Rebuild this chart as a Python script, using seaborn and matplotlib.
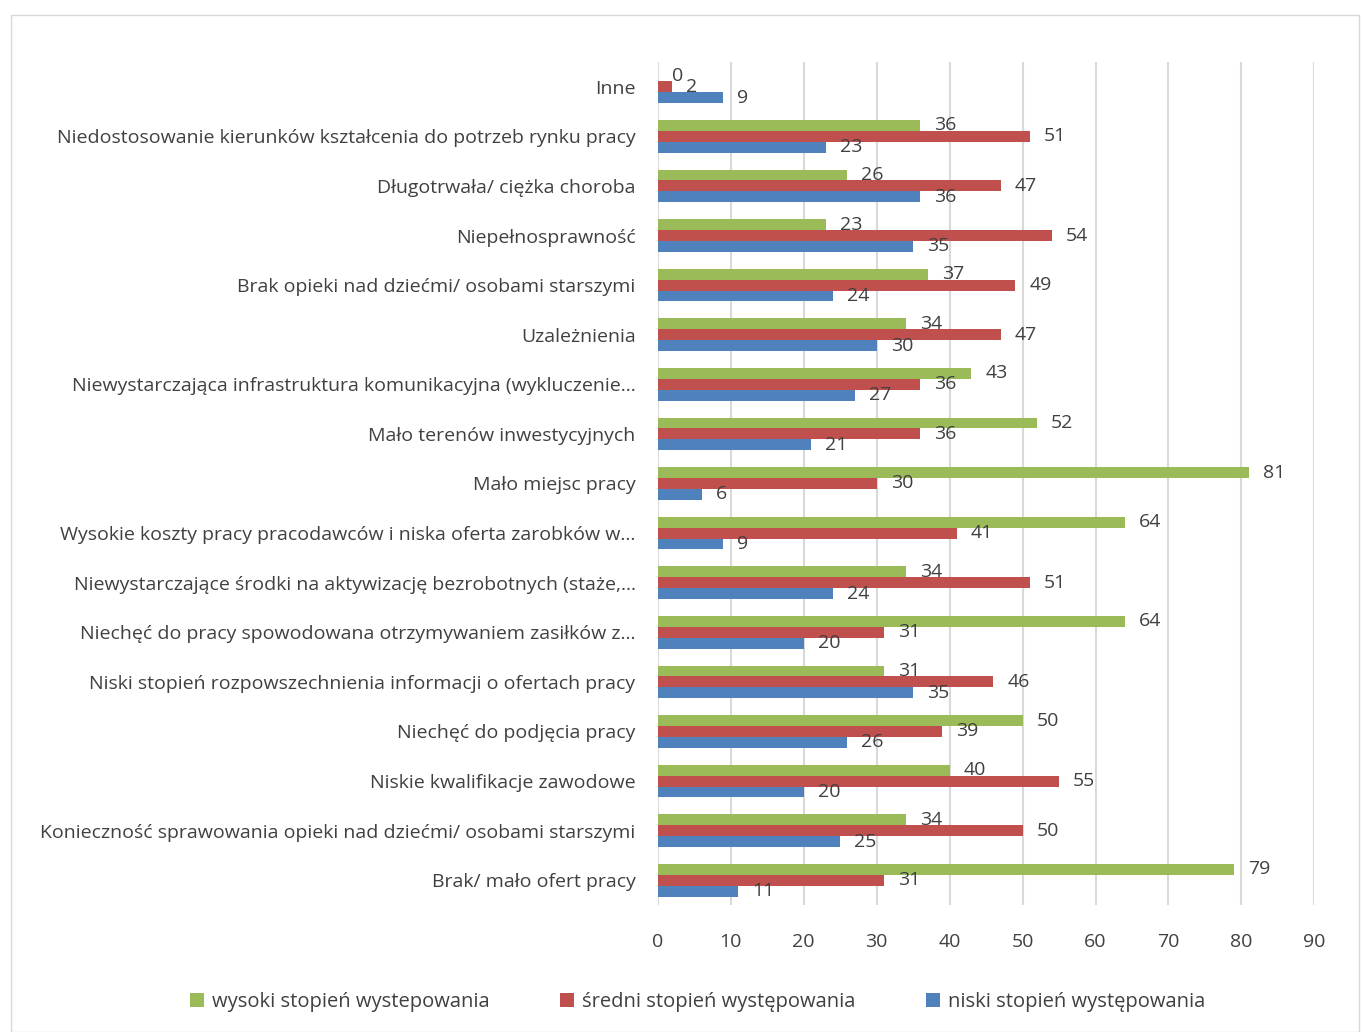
import matplotlib
matplotlib.use("Agg")
import matplotlib.pyplot as plt
import seaborn as sns
import pandas as pd

categories = [
    "Inne",
    "Niedostosowanie kierunków kształcenia do potrzeb rynku pracy",
    "Długotrwała/ ciężka choroba",
    "Niepełnosprawność",
    "Brak opieki nad dziećmi/ osobami starszymi",
    "Uzależnienia",
    "Niewystarczająca infrastruktura komunikacyjna (wykluczenie…",
    "Mało terenów inwestycyjnych",
    "Mało miejsc pracy",
    "Wysokie koszty pracy pracodawców i niska oferta zarobków w…",
    "Niewystarczające środki na aktywizację bezrobotnych (staże,…",
    "Niechęć do pracy spowodowana otrzymywaniem zasiłków z…",
    "Niski stopień rozpowszechnienia informacji o ofertach pracy",
    "Niechęć do podjęcia pracy",
    "Niskie kwalifikacje zawodowe",
    "Konieczność sprawowania opieki nad dziećmi/ osobami starszymi",
    "Brak/ mało ofert pracy",
]
wysoki = [0, 36, 26, 23, 37, 34, 43, 52, 81, 64, 34, 64, 31, 50, 40, 34, 79]
sredni = [2, 51, 47, 54, 49, 47, 36, 36, 30, 41, 51, 31, 46, 39, 55, 50, 31]
niski = [9, 23, 36, 35, 24, 30, 27, 21, 6, 9, 24, 20, 35, 26, 20, 25, 11]
series = ["wysoki stopień wystepowania", "średni stopień występowania", "niski stopień występowania"]
colors = ["#9BBB59", "#C0504D", "#4F81BD"]

rows = []
for i, c in enumerate(categories):
    for s, vals in zip(series, [wysoki, sredni, niski]):
        rows.append({"cat": c, "series": s, "value": vals[i]})
df = pd.DataFrame(rows)

sns.set_style("white")
plt.rcParams["font.family"] = ["Open Sans", "DejaVu Sans"]

fig = plt.figure(figsize=(13.62, 10.32), dpi=100)
ax = fig.add_axes([0.483, 0.123, 0.482, 0.817])
sns.barplot(data=df, y="cat", x="value", hue="series", order=categories,
            hue_order=series, palette=colors, orient="h", width=0.66,
            ax=ax, saturation=1, edgecolor="none")
ax.set_xlim(0, 90)
ax.set_xticks(range(0, 91, 10))
ax.grid(axis="x", color="#D9D9D9", linewidth=1.5)
ax.set_axisbelow(True)
for sp in ax.spines.values():
    sp.set_visible(False)
ax.set_xlabel("")
ax.set_ylabel("")
ax.tick_params(axis="both", length=0, labelsize=14, colors="#404040")
ax.tick_params(axis="y", pad=16)
ax.tick_params(axis="x", pad=20)
for cont in ax.containers:
    ax.bar_label(cont, padding=10, fontsize=14, color="#404040")

h, l = ax.get_legend_handles_labels()
ax.legend_.remove()
fig.legend(h, l, loc="center", bbox_to_anchor=(0.512, 0.029), ncol=3, frameon=False,
           fontsize=14.5, handlelength=0.7, handleheight=0.7, columnspacing=3.5,
           handletextpad=0.4, labelcolor="#404040")
fig.patches.append(plt.Rectangle((0.008, 0.0), 0.99, 0.985, transform=fig.transFigure,
                                 fill=False, edgecolor="#D9D9D9", linewidth=1))
fig.savefig("out.png", dpi=100)
